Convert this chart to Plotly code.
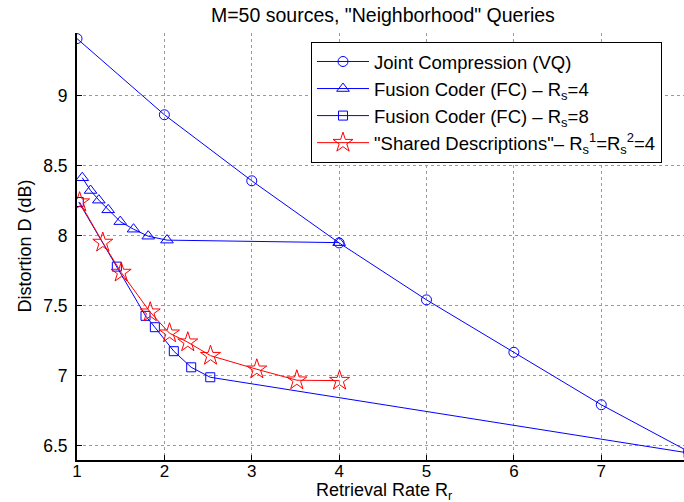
import plotly.graph_objects as go

# ---- data ----
vq_x = [1, 2, 3, 4, 5, 6, 7, 8]
vq_y = [9.405, 8.862, 8.391, 7.948, 7.542, 7.168, 6.794, 6.46]

fc4_x = [1.06, 1.155, 1.25, 1.357, 1.495, 1.647, 1.815, 2.03, 4.0]
fc4_y = [8.413, 8.322, 8.253, 8.184, 8.10, 8.046, 7.996, 7.968, 7.95]

fc8_x = [1.02, 1.456, 1.784, 1.891, 2.108, 2.307, 2.525, 8.0]
fc8_y = [8.24, 7.779, 7.428, 7.347, 7.176, 7.061, 6.99, 6.45]

sd_x = [1.03, 1.295, 1.506, 1.838, 2.059, 2.268, 2.528, 3.058, 3.516, 4.005]
sd_y = [8.239, 7.951, 7.737, 7.454, 7.304, 7.24, 7.144, 7.047, 6.969, 6.966]

x_ticks = [1, 2, 3, 4, 5, 6, 7, 8]
y_ticks = [6.5, 7, 7.5, 8, 8.5, 9]
y_tick_text = ["6.5", "7", "7.5", "8", "8.5", "9"]

names = [
    "Joint Compression (VQ)",
    "Fusion Coder (FC) \u2013 R<sub>s</sub>=4",
    "Fusion Coder (FC) \u2013 R<sub>s</sub>=8",
    "\"Shared Descriptions\"\u2013 R<sub>s</sub><sup>1</sup>=R<sub>s</sub><sup>2</sup>=4",
]

FONT = "Liberation Sans, Arial, Helvetica, sans-serif"
BLUE = "#0000ff"
RED = "#ff0000"

fig = go.Figure()
fig.add_trace(go.Scatter(x=vq_x, y=vq_y, name=names[0], mode="lines+markers",
                         line=dict(color=BLUE, width=1),
                         marker=dict(symbol="circle-open", size=10, color=BLUE, line=dict(width=1))))
fig.add_trace(go.Scatter(x=fc4_x, y=fc4_y, name=names[1], mode="lines+markers",
                         line=dict(color=BLUE, width=1),
                         marker=dict(symbol="triangle-up-open", size=11, color=BLUE, line=dict(width=1))))
fig.add_trace(go.Scatter(x=fc8_x, y=fc8_y, name=names[2], mode="lines+markers",
                         line=dict(color=BLUE, width=1),
                         marker=dict(symbol="square-open", size=9, color=BLUE, line=dict(width=1))))
fig.add_trace(go.Scatter(x=sd_x, y=sd_y, name=names[3], mode="lines+markers",
                         line=dict(color=RED, width=1),
                         marker=dict(symbol="star-open", size=15, color=RED, line=dict(width=1))))

XR = [1, 7.947]
YR = [6.40, 9.445]

fig.update_layout(
    width=684, height=502,
    margin=dict(l=77, r=0, t=33, b=42),
    paper_bgcolor="white", plot_bgcolor="white",
    font=dict(family=FONT, size=17, color="black"),
    showlegend=True,
    title=dict(text="M=50 sources, \"Neighborhood\" Queries",
               x=0.504, xref="paper", xanchor="center",
               y=1 - 15 / 502, yref="container", yanchor="middle",
               font=dict(family=FONT, size=19.5, color="black")),
    xaxis=dict(range=XR, tickvals=x_ticks, ticktext=[str(v) for v in x_ticks],
               showgrid=True, gridcolor="#9a9a9a", griddash="dot", gridwidth=1,
               zeroline=False, showline=True, linecolor="black", linewidth=2,
               ticks="inside", ticklen=5, tickcolor="black", tickwidth=1,
               ticklabelstandoff=-5, tickfont=dict(size=17)),
    xaxis2=dict(range=XR, tickvals=x_ticks, overlaying="x", side="top",
                showticklabels=False, showgrid=False, zeroline=False,
                showline=True, linecolor="black", linewidth=1,
                ticks="inside", ticklen=5, tickcolor="black", tickwidth=1),
    yaxis=dict(range=YR, tickvals=y_ticks, ticktext=y_tick_text,
               showgrid=True, gridcolor="#9a9a9a", griddash="dot", gridwidth=1,
               zeroline=False, showline=True, linecolor="black", linewidth=2,
               ticks="inside", ticklen=5, tickcolor="black", tickwidth=1,
               ticklabelstandoff=4, tickfont=dict(size=17.5)),
    legend=dict(x=0.3855, y=0.979, xanchor="left", yanchor="top",
                bgcolor="white", bordercolor="black", borderwidth=1,
                font=dict(family=FONT, size=18.5, color="black"),
                itemwidth=52, tracegroupgap=0),
    annotations=[
        dict(text="Retrieval Rate R<sub>r</sub>", xref="paper", yref="paper",
             x=0.505, y=0, yshift=-31, xanchor="center", yanchor="middle",
             showarrow=False, font=dict(family=FONT, size=18)),
        dict(text="Distortion D (dB)", xref="paper", yref="paper",
             x=0, y=0.5, xshift=-53, xanchor="center", yanchor="middle",
             textangle=-90, showarrow=False, font=dict(family=FONT, size=18)),
    ],
)

fig.write_html("out.html",
               config={"displayModeBar": False},
               post_script="document.body.style.margin='0';document.body.style.padding='0';")
